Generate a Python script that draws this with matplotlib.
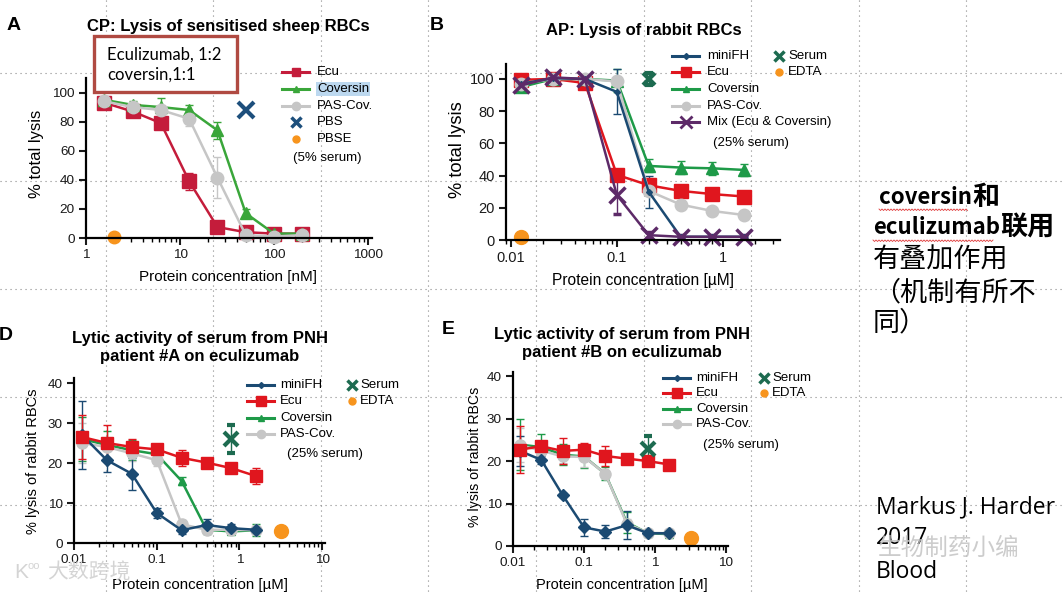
import numpy as np
import matplotlib
matplotlib.use('Agg')
import matplotlib.pyplot as plt
from matplotlib import transforms as mtransforms
from matplotlib.lines import Line2D
from matplotlib.patches import Rectangle
from matplotlib.text import Annotation
from matplotlib.ticker import LogLocator, NullFormatter, FuncFormatter, MultipleLocator

plt.rcParams['font.family'] = ['Liberation Sans', 'DejaVu Sans']
CJK = ['Noto Sans CJK SC', 'DejaVu Sans']

## data ---------------------------------------------------------------
conc_nM = [1.5625, 3.125, 6.25, 12.5, 25, 50, 100, 200]
conc_uM = [0.0125, 0.025, 0.05, 0.1, 0.2, 0.4, 0.8, 1.6]

# A: CP, sheep RBCs (5% serum)
ecu_A = [93, 87, 79, 39, 7.5, 4, 3, 3]
ecu_A_err = [2, 2, 2, 6, 2, 1, 1, 1]
cov_A = [95, 91.5, 90, 88, 74, 17, 3, 3]
cov_A_err = [1, 2.5, 6, 3.5, 6, 3, 1, 1]
pas_A = [94, 90, 88, 82, 41.5, 2, 1, 2]
pas_A_err = [1, 2, 2, 5, 14, 1, 1, 1]
pbs_A = ([50], [88])
pbse_A = ([2], [0.5])

# B: AP, rabbit RBCs (25% serum)
mini_B = [97, 100.5, 100, 92, 30, 2, 2, 2]
mini_B_err = [2, 1, 1, 14, 10, 1, 1, 1]
ecu_B = [99.5, 100, 97.5, 40.5, 34, 30.5, 28.5, 27]
ecu_B_err = [1, 1, 4, 2, 2, 2, 2, 2]
cov_B = [95, 100, 100, 99, 46, 45, 44.5, 43.5]
cov_B_err = [3, 1, 2, 7, 4, 4, 4, 4]
pas_B = [97, 100, 100, 98.5, 30.5, 22, 18, 15.5]
pas_B_err = [2, 1, 1, 2, 2, 2, 2, 2]
mix_B = [96, 101, 100, 28, 3, 2, 2, 2]
mix_B_err = [2, 1, 2, 12, 2, 1, 1, 1]
serum_B = ([0.2], [100], [4])
edta_B = ([0.0125], [2])

# D: PNH patient #A
mini_D = [27, 20.7, 17.3, 7.5, 3.2, 4.5, 3.7, 3.3]
mini_D_err = [8.5, 3, 4, 1.2, 1, 1.5, 1, 0.8]
ecu_D = [26.5, 25, 24, 23.4, 21.3, 20.1, 18.7, 16.7]
ecu_D_err = [5.5, 4.5, 2, 1, 2, 0.8, 0.8, 2]
cov_D = [26, 24.5, 23.2, 22.2, 15.5, 3.3, 2.9, 3.2]
cov_D_err = [5.5, 3.5, 2.5, 0.8, 1, 0.5, 0.5, 1.5]
pas_D = [25, 24, 22.4, 20.7, 4.7, 3.3, 3.3, 3.2]
pas_D_err = [5, 1, 2, 1.5, 1, 0.8, 0.5, 0.8]
serum_D = ([0.8], [26.1], [3.5])
edta_D = ([3.2], [3])

# E: PNH patient #B
mini_E = [22.4, 20.3, 12, 4.4, 3.4, 4.9, 3, 3]
mini_E_err = [3.5, 1, 0.5, 2, 1.5, 3.3, 0.5, 0.5]
ecu_E = [22.7, 23.5, 22.4, 22.7, 21.2, 20.6, 20, 19.2]
ecu_E_err = [5.5, 1, 3, 1.5, 2.3, 0.5, 0.5, 0.5]
cov_E = [23.9, 23.3, 21.5, 21.1, 17, 5.6, 3, 2.8]
cov_E_err = [6, 3, 2.5, 2.8, 1.5, 2.5, 0.5, 0.5]
pas_E = [23.7, 22.5, 21.1, 21, 17, 5.3, 3.1, 3]
pas_E_err = [4, 2, 1.5, 2.5, 1, 1, 0.5, 0.5]
serum_E = ([0.8], [22.9], [3])
edta_E = ([3.2], [2])

## colours
NAVY = '#1b4a72'
RED_A = '#c41c3b'
RED = '#e0161e'
GREEN_A = '#3aa63a'
GREEN = '#1e9a48'
GREY = '#c6c6c6'
PURPLE = '#5d2a68'
DKGREEN = '#1d6b50'
ORANGE = '#f7941d'

## figure in pixel coordinates ------------------------------------------
W, H = 1063, 593
fig = plt.figure(figsize=(W / 100, H / 100), dpi=100)
PX = mtransforms.Affine2D().scale(1 / W, -1 / H).translate(0, 1) + fig.transFigure


def box(l, t, r, b):
    return [l / W, 1 - b / H, (r - l) / W, (b - t) / H]


def txt(x, y, s, **kw):
    kw.setdefault('va', 'center')
    kw.setdefault('ha', 'left')
    return fig.text(x, y, s, transform=PX, **kw)


def after(prev, s, **kw):
    # text placed right after another text
    a = Annotation(s, xy=(1, 0.5), xycoords=prev, va='center', ha='left', **kw)
    fig.add_artist(a)
    return a


def key(x, y, color, marker, ms, mew=1, line=True, length=27):
    if line:
        fig.add_artist(Line2D([x, x + length], [y, y], transform=PX, color=color, lw=2.2))
    fig.add_artist(Line2D([x + length / 2], [y], transform=PX, color=color, marker=marker,
                          ms=ms, mew=mew, ls='none'))


def wavy(x0, x1, y):
    xs = np.arange(x0, x1, 1.5)
    ys = y + (np.arange(len(xs)) % 2) * 1.5
    fig.add_artist(Line2D(xs, ys, transform=PX, color='#e03a3a', lw=0.6))


# PowerPoint dotted grid
for gx in 105.5 + 107.6 * np.arange(9):
    fig.add_artist(Line2D([gx, gx], [0, H], transform=PX, color='#8a8a8a', lw=0.8,
                          ls=(0, (1, 3.5)), zorder=-5))
for gy in 73 + 108 * np.arange(5):
    fig.add_artist(Line2D([0, W], [gy, gy], transform=PX, color='#8a8a8a', lw=0.8,
                          ls=(0, (1, 3.5)), zorder=-5))


def make_axes(rect, xlim, ylim, ystep, tsize):
    ax = fig.add_axes(rect)
    ax.set_facecolor('none')
    ax.set_xscale('log')
    ax.set_xlim(*xlim)
    ax.set_ylim(*ylim)
    for s in ['top', 'right']:
        ax.spines[s].set_visible(False)
    for s in ['left', 'bottom']:
        ax.spines[s].set_linewidth(1.6)
    ax.xaxis.set_major_locator(LogLocator(10))
    ax.xaxis.set_minor_locator(LogLocator(10, subs=np.arange(2, 10)))
    ax.xaxis.set_minor_formatter(NullFormatter())
    ax.xaxis.set_major_formatter(FuncFormatter(lambda v, p: f'{v:g}'))
    ax.yaxis.set_major_locator(MultipleLocator(ystep))
    ax.tick_params(which='major', direction='out', length=5, width=1.5, labelsize=tsize,
                   pad=3, colors='#1a1a1a')
    ax.tick_params(which='minor', direction='out', length=3, width=1)
    return ax


def series(ax, x, y, e, color, marker, ms, mew=1, lw=1.8):
    ax.errorbar(x, y, yerr=e, color=color, marker=marker, ms=ms, mfc=color, mec=color,
                mew=mew, lw=lw, elinewidth=1, capsize=3, capthick=1)


def finish(ax):
    for a in ax.get_children():
        if isinstance(a, Line2D) or a.__class__.__name__ == 'LineCollection':
            a.set_clip_on(False)


## A ------------------------------------------------------------------
axA = make_axes(box(86, 78, 372, 238), (1, 1100), (0, 110), 20, 9.7)
series(axA, conc_nM, ecu_A, ecu_A_err, RED_A, 's', 9.5)
series(axA, conc_nM, cov_A, cov_A_err, GREEN_A, '^', 8)
series(axA, conc_nM, pas_A, pas_A_err, GREY, 'o', 9)
axA.plot(*pbs_A, ls='none', marker='x', ms=12, mew=3, color='#1d4f7c')
axA.plot(*pbse_A, ls='none', marker='o', ms=9, color=ORANGE)
finish(axA)

txt(14, 25, 'A', fontsize=14, fontweight='bold', ha='center')
txt(228, 27, 'CP: Lysis of sensitised sheep RBCs', fontsize=12, fontweight='bold', ha='center')
txt(228, 277, 'Protein concentration [nM]', fontsize=11, ha='center')
txt(37, 154, '% total lysis', fontsize=12, ha='center', rotation=90)

key(282, 72, RED_A, 's', 6)
key(282, 89, GREEN_A, '^', 5)
key(282, 106, GREY, 'o', 6)
key(282, 122, '#1d4f7c', 'x', 7, mew=2.5, line=False)
key(282, 139, ORANGE, 'o', 5, line=False)
for yy, s in zip([72, 89, 106, 122, 139], ['Ecu', 'Coversin', 'PAS-Cov.', 'PBS', 'PBSE']):
    t = txt(317, yy, s, fontsize=9.5)
    if s == 'Coversin':
        t.set_bbox(dict(facecolor='#bcd8ef', edgecolor='none', pad=0.5))
txt(293, 158, '(5% serum)', fontsize=9.5)

fig.add_artist(Rectangle((94, 36), 143, 56, transform=PX, facecolor='white',
                         edgecolor='#b04a42', lw=2.4, zorder=5))
txt(107, 55, 'Eculizumab, 1:2', fontsize=12, family=['Lato', 'DejaVu Sans'], zorder=6)
txt(107, 75, 'coversin,1:1', fontsize=12, family=['Lato', 'DejaVu Sans'], zorder=6)
wavy(107, 187, 64)

## B ------------------------------------------------------------------
axB = make_axes(box(506, 64, 780, 240), (0.009, 3.47), (0, 109.3), 20, 10.5)
series(axB, conc_uM, ecu_B, ecu_B_err, RED, 's', 10)
series(axB, conc_uM, cov_B, cov_B_err, GREEN, '^', 8)
series(axB, conc_uM, pas_B, pas_B_err, GREY, 'o', 9)
series(axB, conc_uM, mini_B, mini_B_err, NAVY, 'D', 3)
series(axB, conc_uM, mix_B, mix_B_err, PURPLE, 'x', 11, mew=2.5)
axB.errorbar(serum_B[0], serum_B[1], yerr=serum_B[2], ls='none', marker='x', ms=9, mew=3,
             color=DKGREEN, elinewidth=1, capsize=3)
axB.plot(*edta_B, ls='none', marker='o', ms=10, color=ORANGE)
finish(axB)

txt(437, 26, 'B', fontsize=14, fontweight='bold', ha='center')
txt(644, 30, 'AP: Lysis of rabbit RBCs', fontsize=12, fontweight='bold', ha='center')
txt(643, 280, 'Protein concentration [\u00b5M]', fontsize=11.2, ha='center')
txt(457, 150, '% total lysis', fontsize=13.2, ha='center', rotation=90)

key(672, 56, NAVY, 'D', 3)
key(672, 72, RED, 's', 7)
key(672, 89, GREEN, '^', 5)
key(672, 106, GREY, 'o', 6)
key(672, 122, PURPLE, 'x', 8, mew=2)
for yy, s in zip([56, 72, 89, 106, 122],
                 ['miniFH', 'Ecu', 'Coversin', 'PAS-Cov.', 'Mix (Ecu & Coversin)']):
    txt(707, yy, s, fontsize=9.5)
txt(713, 143, '(25% serum)', fontsize=9.5)
key(765, 56, DKGREEN, 'x', 7, mew=2.5, line=False)
key(765, 72, ORANGE, 'o', 5, line=False)
txt(788, 56, 'Serum', fontsize=9.5)
txt(788, 72, 'EDTA', fontsize=9.5)


## D / E ----------------------------------------------------------------
def pnh_panel(rect, xlim, ylim, mini, mini_e, ecu, ecu_e, cov, cov_e, pas, pas_e, serum, edta):
    ax = make_axes(rect, xlim, ylim, 10, 9.7)
    series(ax, conc_uM, cov, cov_e, GREEN, '^', 6)
    series(ax, conc_uM, pas, pas_e, GREY, 'o', 8)
    series(ax, conc_uM, mini, mini_e, NAVY, 'D', 6.5)
    series(ax, conc_uM, ecu, ecu_e, RED, 's', 8.5)
    ax.errorbar(serum[0], serum[1], yerr=serum[2], ls='none', marker='x', ms=10, mew=3,
                color=DKGREEN, elinewidth=1, capsize=3)
    ax.plot(*edta, ls='none', marker='o', ms=10, color=ORANGE)
    finish(ax)
    return ax


axD = pnh_panel(box(74, 378, 325, 543), (0.01, 10.8), (0, 41.25),
                mini_D, mini_D_err, ecu_D, ecu_D_err, cov_D, cov_D_err, pas_D, pas_D_err,
                serum_D, edta_D)
axE = pnh_panel(box(513, 372, 728, 546), (0.01, 10.7), (0, 41),
                mini_E, mini_E_err, ecu_E, ecu_E_err, cov_E, cov_E_err, pas_E, pas_E_err,
                serum_E, edta_E)

# D texts
txt(6, 336, 'D', fontsize=14, fontweight='bold', ha='center')
txt(200, 338, 'Lytic activity of serum from PNH', fontsize=12, fontweight='bold', ha='center')
txt(200, 357, 'patient #A on eculizumab', fontsize=12, fontweight='bold', ha='center')
txt(200, 585, 'Protein concentration [\u00b5M]', fontsize=10.8, ha='center')
txt(33, 461, '% lysis of rabbit RBCs', fontsize=10.5, ha='center', rotation=90)
# E texts
txt(448, 330, 'E', fontsize=14, fontweight='bold', ha='center')
txt(622, 335, 'Lytic activity of serum from PNH', fontsize=12, fontweight='bold', ha='center')
txt(622, 353, 'patient #B on eculizumab', fontsize=12, fontweight='bold', ha='center')
txt(622, 585, 'Protein concentration [\u00b5M]', fontsize=10.5, ha='center')
txt(475, 457, '% lysis of rabbit RBCs', fontsize=10.2, ha='center', rotation=90)

for kx, rows, cx, sx in [(247, [385, 401, 418, 434, 454], 338, 360),
                         (663, [378, 393, 409, 424, 445], 750, 772)]:
    key(kx, rows[0], NAVY, 'D', 3)
    key(kx, rows[1], RED, 's', 7)
    key(kx, rows[2], GREEN, '^', 5)
    key(kx, rows[3], GREY, 'o', 6)
    for yy, s in zip(rows[:4], ['miniFH', 'Ecu', 'Coversin', 'PAS-Cov.']):
        txt(kx + 33, yy, s, fontsize=9.5)
    txt(kx + 40, rows[4], '(25% serum)', fontsize=9.5)
    key(cx, rows[0], DKGREEN, 'x', 7, mew=2.5, line=False)
    key(cx, rows[1], ORANGE, 'o', 5, line=False)
    txt(sx, rows[0], 'Serum', fontsize=9.5)
    txt(sx, rows[1], 'EDTA', fontsize=9.5)

## right-hand notes -------------------------------------------------------
t1 = txt(879, 197, 'coversin', fontsize=16, family=CJK, fontweight='bold')
after(t1, '和', fontsize=19.5, family=CJK, fontweight='bold')
t2 = txt(873, 228, 'eculizumab', fontsize=16, family=CJK, fontweight='bold')
after(t2, '联用', fontsize=19.5, family=CJK, fontweight='bold')
txt(873, 260, '有叠加作用', fontsize=19.5, family=CJK)
txt(873, 293, '（机制有所不', fontsize=19.5, family=CJK)
txt(873, 323, '同）', fontsize=19.5, family=CJK)
wavy(879, 968, 209)
wavy(873, 994, 240)

txt(876, 507, 'Markus J. Harder', fontsize=16.5, family=['Open Sans', 'DejaVu Sans'])
txt(876, 538, '2017', fontsize=16.5, family=['Open Sans', 'DejaVu Sans'])
txt(876, 572, 'Blood', fontsize=16.5, family=['Open Sans', 'DejaVu Sans'])

# watermarks
txt(878, 548, '生物制药小编', fontsize=17, family=CJK, color='#c4c4c4', alpha=0.85, zorder=8)
txt(47, 573, '大数跨境', fontsize=15, family=CJK, color='#d4d4d4', zorder=8)
txt(14, 573, 'K', fontsize=15, color='#d4d4d4', zorder=8)
txt(27, 566, 'oo', fontsize=8, color='#d4d4d4', zorder=8)

fig.savefig('out.png', dpi=100, facecolor='white')
